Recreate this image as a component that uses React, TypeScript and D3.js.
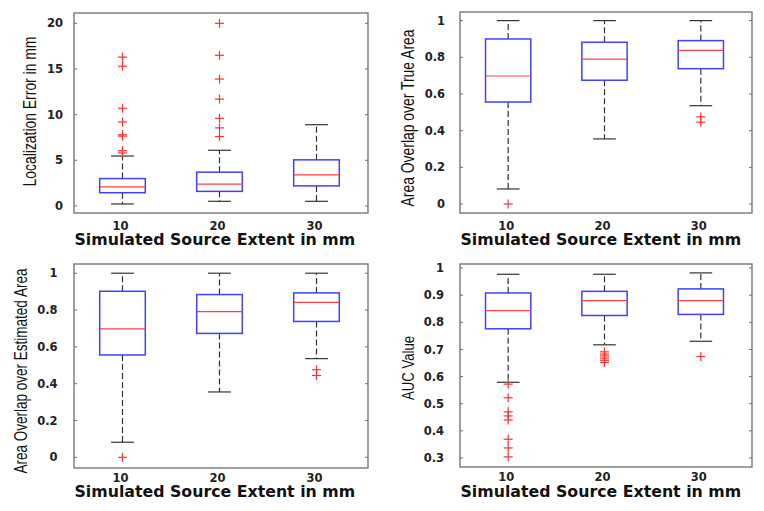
import React, { useLayoutEffect, useRef, useState } from "react";
import * as d3 from "d3";

const categories = ["10", "20", "30"];
const xTitle = "Simulated Source Extent in mm";

// Panel 1: Localization error
const locLow = [0.22, 0.51, 0.51];
const locQ1 = [1.45, 1.6, 2.2];
const locMed = [2.1, 2.4, 3.4];
const locQ3 = [3.0, 3.7, 5.05];
const locHigh = [5.47, 6.1, 8.9];
const locOut = [
  [16.3, 15.3, 10.7, 9.2, 7.8, 7.65, 6.05, 5.8],
  [20.0, 16.5, 13.9, 11.7, 9.6, 8.55, 7.6],
  [],
];
const locTicks = [0, 5, 10, 15, 20];

// Panel 2: Area overlap over true area
const trueLow = [0.082, 0.355, 0.536];
const trueQ1 = [0.556, 0.675, 0.738];
const trueMed = [0.698, 0.79, 0.838];
const trueQ3 = [0.9, 0.882, 0.891];
const trueHigh = [1, 1, 1];
const trueOut = [[0], [], [0.475, 0.446]];

// Panel 3: Area overlap over estimated area
const estLow = [0.082, 0.355, 0.536];
const estQ1 = [0.556, 0.673, 0.738];
const estMed = [0.698, 0.791, 0.842];
const estQ3 = [0.902, 0.884, 0.893];
const estHigh = [1, 1, 1];
const estOut = [[0], [], [0.476, 0.445]];
const areaTicks = [0, 0.2, 0.4, 0.6, 0.8, 1];

// Panel 4: AUC value
const aucLow = [0.579, 0.717, 0.73];
const aucQ1 = [0.776, 0.825, 0.829];
const aucMed = [0.843, 0.88, 0.88];
const aucQ3 = [0.908, 0.914, 0.923];
const aucHigh = [0.977, 0.977, 0.982];
const aucOut = [
  [0.572, 0.522, 0.47, 0.455, 0.44, 0.369, 0.337, 0.304],
  [0.691, 0.683, 0.676, 0.668, 0.66, 0.652],
  [0.674],
];
const aucTicks = [0.3, 0.4, 0.5, 0.6, 0.7, 0.8, 0.9, 1];

function FitText(props: {
  x: number; y: number; len: number; size: number; rotate: number; anchor: string;
  family: string; weight?: string; fill: string; text: string;
}) {
  const ref = useRef<SVGTextElement>(null);
  const [sx, setSx] = useState(1);
  useLayoutEffect(() => {
    if (ref.current) {
      const w = ref.current.getComputedTextLength();
      if (w > 0) setSx(props.len / w);
    }
  }, [props.len, props.text, props.size]);
  return (
    <text
      ref={ref}
      transform={`translate(${props.x},${props.y}) rotate(${props.rotate}) scale(${sx},1)`}
      textAnchor={props.anchor}
      fontFamily={props.family}
      fontWeight={props.weight || "normal"}
      fontSize={props.size}
      fill={props.fill}
    >
      {props.text}
    </text>
  );
}

type PanelProps = {
  x0: number; x1: number; y0: number; y1: number;
  domain: [number, number];
  ticks: number[];
  low: number[]; q1: number[]; med: number[]; q3: number[]; high: number[];
  out: number[][];
  yTitle: string; yTitleX: number; yTitleY: number; yTitleLen: number; yTitleSize: number;
  tickRight: number; xTickY: number; xTitleY: number;
};

function Panel(p: PanelProps) {
  const x = d3.scaleLinear().domain([0.5, 3.5]).range([p.x0, p.x1 - 3]);
  const y = d3.scaleLinear().domain(p.domain).range([p.y1, p.y0]);
  const unit = x(1) - x(0);
  const bw = unit * 0.47;
  const cw = bw / 2;
  const fmt = (v: number) => (v === 0 ? "0" : v === 1 ? "1" : String(v));
  const tickFont = "'DejaVu Sans', Verdana, sans-serif";
  return (
    <g>
      <rect x={p.x0} y={p.y0} width={p.x1 - p.x0} height={p.y1 - p.y0} fill="white" stroke="#6e6e6e" strokeWidth={1.3} />
      {p.ticks.map((t) => (
        <g key={t}>
          <line x1={p.x0} x2={p.x0 + 3} y1={y(t)} y2={y(t)} stroke="#6e6e6e" />
          <line x1={p.x1} x2={p.x1 - 3} y1={y(t)} y2={y(t)} stroke="#6e6e6e" />
          <text x={p.tickRight} y={y(t)} dy="0.36em" textAnchor="end" fontFamily={tickFont} fontWeight="bold" fontSize={11.5} fill="#222">
            {fmt(t)}
          </text>
        </g>
      ))}
      {categories.map((c, i) => {
        const cx = x(i + 1);
        return (
          <g key={c}>
            <line x1={cx} x2={cx} y1={y(p.q3[i])} y2={y(p.high[i])} stroke="#333" strokeWidth={1.2} strokeDasharray="6,3" />
            <line x1={cx} x2={cx} y1={y(p.q1[i])} y2={y(p.low[i])} stroke="#333" strokeWidth={1.2} strokeDasharray="6,3" />
            <line x1={cx - cw / 2} x2={cx + cw / 2} y1={y(p.high[i])} y2={y(p.high[i])} stroke="#333" strokeWidth={1.2} />
            <line x1={cx - cw / 2} x2={cx + cw / 2} y1={y(p.low[i])} y2={y(p.low[i])} stroke="#333" strokeWidth={1.2} />
            <rect x={cx - bw / 2} y={y(p.q3[i])} width={bw} height={y(p.q1[i]) - y(p.q3[i])} fill="none" stroke="#4040ff" strokeWidth={1.5} />
            <line x1={cx - bw / 2} x2={cx + bw / 2} y1={y(p.med[i])} y2={y(p.med[i])} stroke="#ff4040" strokeWidth={1.2} />
            {p.out[i].map((v, k) => (
              <g key={k} stroke="#ff3030" strokeWidth={1.2}>
                <line x1={cx - 4.5} x2={cx + 4.5} y1={y(v)} y2={y(v)} />
                <line x1={cx} x2={cx} y1={y(v) - 4.5} y2={y(v) + 4.5} />
              </g>
            ))}
            <text x={cx - 2} y={p.xTickY} textAnchor="middle" fontFamily={tickFont} fontWeight="bold" fontSize={11.5} fill="#222">
              {c}
            </text>
          </g>
        );
      })}
      <FitText x={p.x0 + 0.5} y={p.xTitleY} len={281} size={15.5} rotate={0} anchor="start"
        family={tickFont} weight="bold" fill="#111" text={xTitle} />
      <FitText x={p.yTitleX} y={p.yTitleY} len={p.yTitleLen} size={p.yTitleSize} rotate={-90} anchor="middle"
        family="'Liberation Sans Narrow', 'Liberation Sans', Arial, sans-serif" fill="#111" text={p.yTitle} />
    </g>
  );
}

export default function App() {
  return (
    <svg width={764} height={511} style={{ position: "absolute", left: 0, top: 0, background: "white" }}>
      <rect width={764} height={511} fill="white" />
      <Panel x0={74} x1={368} y0={13} y1={213} domain={[-0.77, 21.13]} ticks={locTicks}
        low={locLow} q1={locQ1} med={locMed} q3={locQ3} high={locHigh} out={locOut}
        yTitle="Localization Error in mm" yTitleX={36} yTitleY={111.5} yTitleLen={150} yTitleSize={19}
        tickRight={63} xTickY={229.5} xTitleY={245} />
      <Panel x0={460} x1={752} y0={12} y1={213} domain={[-0.049, 1.047]} ticks={areaTicks}
        low={trueLow} q1={trueQ1} med={trueMed} q3={trueQ3} high={trueHigh} out={trueOut}
        yTitle="Area Overlap over True Area" yTitleX={414} yTitleY={118} yTitleLen={177} yTitleSize={18.5}
        tickRight={445} xTickY={229.5} xTitleY={245} />
      <Panel x0={74} x1={368} y0={264} y1={468} domain={[-0.058, 1.05]} ticks={areaTicks}
        low={estLow} q1={estQ1} med={estMed} q3={estQ3} high={estHigh} out={estOut}
        yTitle="Area Overlap over Estimated Area" yTitleX={27} yTitleY={371} yTitleLen={205} yTitleSize={19}
        tickRight={57.5} xTickY={481.5} xTitleY={497} />
      <Panel x0={460} x1={752} y0={264} y1={467} domain={[0.2667, 1.0148]} ticks={aucTicks}
        low={aucLow} q1={aucQ1} med={aucMed} q3={aucQ3} high={aucHigh} out={aucOut}
        yTitle="AUC Value" yTitleX={413.5} yTitleY={368} yTitleLen={64} yTitleSize={17}
        tickRight={444} xTickY={481} xTitleY={497} />
    </svg>
  );
}
